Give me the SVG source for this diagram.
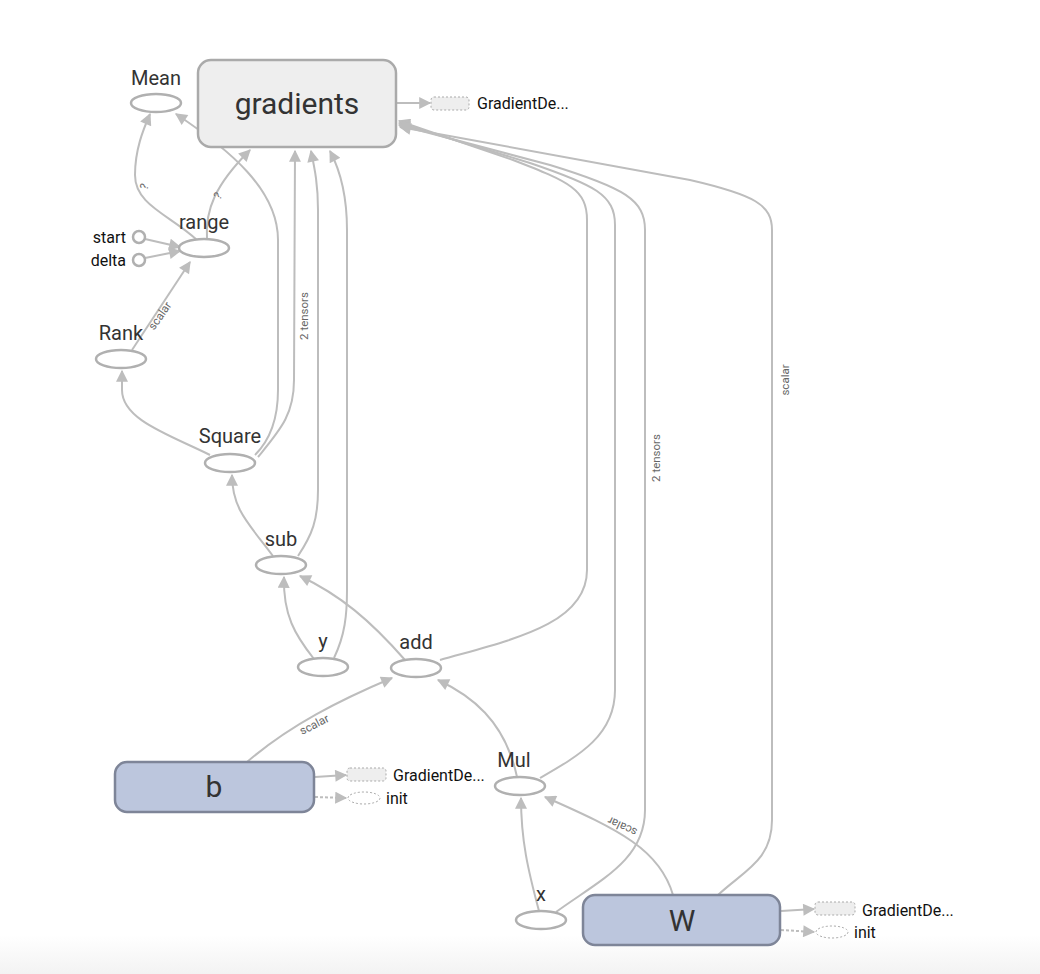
<svg xmlns="http://www.w3.org/2000/svg" width="1040" height="974" viewBox="0 0 1040 974">
<style>
.e{fill:none;stroke:#bdbdbd;stroke-width:2;marker-end:url(#ah)}
.d{fill:none;stroke:#bdbdbd;stroke-width:2;stroke-dasharray:3,2;marker-end:url(#ah)}
.op{fill:#fff;stroke:#b0b0b0;stroke-width:2.5}
.lb{font-family:Roboto,"Liberation Sans",sans-serif;font-size:20px;fill:#333;text-anchor:middle}
.sl{font-family:Roboto,"Liberation Sans",sans-serif;font-size:16px;fill:#111}
.el{font-family:Roboto,"Liberation Sans",sans-serif;font-size:11.5px;fill:#666;text-anchor:middle}
.big{font-family:Roboto,"Liberation Sans",sans-serif;font-size:30px;fill:#333;text-anchor:middle}
.var{fill:#bcc6dd;stroke:#7e8598;stroke-width:2.5}
.aux{fill:#eee;stroke:#aaa;stroke-width:1;stroke-dasharray:2,2}
.auxo{fill:#fff;stroke:#aaa;stroke-width:1;stroke-dasharray:2,2}
</style>
<defs>
<marker id="ah" viewBox="0 0 10 10" refX="9" refY="5" markerUnits="userSpaceOnUse" markerWidth="15" markerHeight="12" orient="auto">
<path d="M0,0 L10,5 L0,10 z" fill="#bdbdbd"/>
</marker>
<linearGradient id="bg" x1="0" y1="0" x2="0" y2="1">
<stop offset="0" stop-color="#fff"/>
<stop offset="1" stop-color="#f3f3f3"/>
</linearGradient>
</defs>
<rect width="1040" height="974" fill="#fff"/>
<rect y="935" width="1040" height="39" fill="url(#bg)"/>
<g id="connectors">
<path class="e" d="M197,240 C170,215 135,205 135,175 C135,150 143,130 150,114"/>
<path class="e" d="M207,239 C205,210 215,185 250,150"/>
<path class="e" d="M255,455 C270,440 278,420 278,390 L278,240 C278,190 230,150 176,114"/>
<path class="e" d="M258,457 C280,430 294,415 294,380 L295,151"/>
<path class="e" d="M298,556 C312,535 318,520 318,490 L318,210 C318,185 315,170 311,151"/>
<path class="e" d="M334,658 C345,635 347,615 347,590 L347,230 C347,195 340,170 330,151"/>
<path class="e" d="M132,350 L190,262"/>
<path class="e" d="M145,239 L180,247"/>
<path class="e" d="M145,258 L180,251"/>
<path class="e" d="M210,455 C170,435 122,420 122,390 L122,371"/>
<path class="e" d="M273,556 C250,525 232,510 232,475"/>
<path class="e" d="M314,659 C295,635 283,615 284,577"/>
<path class="e" d="M405,660 C370,620 340,595 300,576"/>
<path class="e" d="M247,762 C290,725 340,700 392,678"/>
<path class="e" d="M517,777 C505,720 470,695 438,680"/>
<path class="e" d="M440,660 C510,640 587,625 587,570 L587,220 C587,190 570,182 513,160 L399,121"/>
<path class="e" d="M540,778 C580,755 615,735 615,690 L615,225 C615,195 595,185 530,163 L399,123"/>
<path class="e" d="M556,912 C600,880 645,860 645,810 L645,230 C645,200 625,188 550,165 L399,125"/>
<path class="e" d="M718,895 C745,870 772,860 772,820 L772,230 C772,205 755,195 690,180 L400,127"/>
<path class="e" d="M673,895 C660,850 620,830 545,797"/>
<path class="e" d="M539,911 C528,870 521,840 521,798"/>
<path class="e" d="M397,103 L430,103"/>
<path class="e" d="M315,777 L346,775"/>
<path class="d" d="M315,797 L346,798"/>
<path class="e" d="M781,911 L814,909"/>
<path class="d" d="M781,930 L814,932"/>
<text class="el" transform="translate(148,188) rotate(-70)">?</text>
<text class="el" transform="translate(221,198) rotate(-55)">?</text>
<text class="el" transform="translate(308,316) rotate(-90)">2 tensors</text>
<text class="el" transform="translate(163,318) rotate(-55)">scalar</text>
<text class="el" transform="translate(316,728) rotate(-27)">scalar</text>
<text class="el" transform="translate(624,823) rotate(205)">scalar</text>
<text class="el" transform="translate(660,458) rotate(-90)">2 tensors</text>
<text class="el" transform="translate(789,380) rotate(-90)">scalar</text>
</g>
<g id="gradients">
<rect x="198" y="60" width="198" height="87" rx="13" fill="#eee" stroke="#aaa" stroke-width="2.5"/>
<text class="big" x="297" y="114">gradients</text>
</g>
<g id="gradients-out">
<rect class="aux" x="431" y="97" width="38" height="13" rx="3"/>
<text class="sl" x="477" y="109">GradientDe...</text>
</g>
<g id="Mean"><ellipse class="op" cx="156" cy="103" rx="25" ry="9"/><text class="lb" x="156" y="85">Mean</text></g>
<g id="range"><ellipse class="op" cx="204" cy="248" rx="25" ry="9"/><text class="lb" x="204" y="229">range</text></g>
<g id="start"><circle class="op" cx="139" cy="237" r="6" stroke-width="2"/><text class="sl" x="126" y="243" text-anchor="end">start</text></g>
<g id="delta"><circle class="op" cx="139" cy="260" r="6" stroke-width="2"/><text class="sl" x="126" y="266" text-anchor="end">delta</text></g>
<g id="Rank"><ellipse class="op" cx="121" cy="359" rx="25" ry="9"/><text class="lb" x="121" y="340">Rank</text></g>
<g id="Square"><ellipse class="op" cx="230" cy="463" rx="25" ry="9"/><text class="lb" x="230" y="443">Square</text></g>
<g id="sub"><ellipse class="op" cx="281" cy="565" rx="25" ry="9"/><text class="lb" x="281" y="546">sub</text></g>
<g id="y"><ellipse class="op" cx="323" cy="667" rx="25" ry="9"/><text class="lb" x="323" y="648">y</text></g>
<g id="add"><ellipse class="op" cx="416" cy="668" rx="25" ry="9"/><text class="lb" x="416" y="649">add</text></g>
<g id="Mul"><ellipse class="op" cx="520" cy="786" rx="25" ry="9"/><text class="lb" x="514" y="767">Mul</text></g>
<g id="x"><ellipse class="op" cx="541" cy="920" rx="25" ry="9"/><text class="lb" x="541" y="901">x</text></g>
<g id="b">
<rect class="var" x="115" y="762" width="199" height="50" rx="12"/>
<text class="big" x="214" y="797">b</text>
<rect class="aux" x="347" y="768" width="39" height="13" rx="3"/>
<text class="sl" x="393" y="781">GradientDe...</text>
<ellipse class="auxo" cx="364" cy="798" rx="16" ry="6"/>
<text class="sl" x="386" y="804">init</text>
</g>
<g id="W">
<rect class="var" x="583" y="895" width="197" height="50" rx="12"/>
<text class="big" x="682" y="931" font-size="28">W</text>
<rect class="aux" x="815" y="902" width="40" height="13" rx="3"/>
<text class="sl" x="862" y="916">GradientDe...</text>
<ellipse class="auxo" cx="832" cy="932" rx="16" ry="6"/>
<text class="sl" x="854" y="938">init</text>
</g>
</svg>
